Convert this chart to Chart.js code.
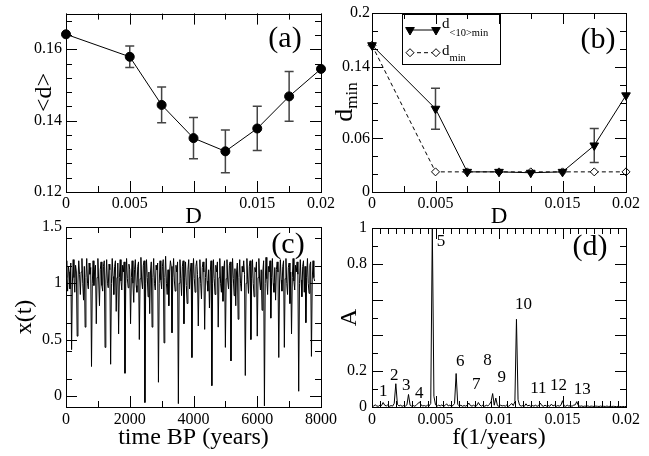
<!DOCTYPE html>
<html>
<head>
<meta charset="utf-8">
<script src="https://cdn.jsdelivr.net/npm/chart.js"></script>
<style>
  body { margin: 0; background: #fff; }
  #wrap { position: relative; width: 649px; height: 456px; }
  #wrap canvas { position: absolute; left: 0; top: 0; }
</style>
</head>
<body>
<div id="wrap">
  <canvas id="panelA" width="649" height="456"></canvas>
  <canvas id="panelB" width="649" height="456"></canvas>
  <canvas id="panelC" width="649" height="456"></canvas>
  <canvas id="panelD" width="649" height="456"></canvas>
</div>
<script>
// ---- panel (a) and (b): noise intensity D
const dVals = [0, 0.005, 0.0075, 0.01, 0.0125, 0.015, 0.0175, 0.02];
const meanD = [0.1642, 0.1579, 0.1444, 0.1351, 0.1314, 0.1378, 0.1468, 0.1545];
const meanDErr = [0, 0.003, 0.005, 0.0058, 0.006, 0.0062, 0.007, 0];
const d10min = [0.164, 0.093, 0.0225, 0.0225, 0.0215, 0.0225, 0.052, 0.108];
const d10minErr = [0, 0.023, 0, 0, 0, 0, 0.019, 0];
const dMin = [0.164, 0.0225, 0.0225, 0.0225, 0.0225, 0.0225, 0.0225, 0.0225];

// ---- panel (c): x(t), one sample every 25 years (one line per dip)
const xStep = 25;
const xSeries = [
  1.2, 1.05, 0.93, 1.15, 1.1, 0.95, 1.18,
  0.41, 1.0, 1.21, 1.05, 0.92, 1.16, 1.1,
  0.53, 1.02, 1.2, 1.08, 0.9, 1.1, 1.22, 1.0, 0.85, 1.15,
  0.61, 1.05, 1.22, 1.0, 0.95, 1.18, 1.08, 1.14,
  0.26, 1.0, 1.2, 0.98, 1.12, 1.16,
  0.64, 1.05, 1.22, 1.02, 0.8, 1.12, 1.19, 0.98, 0.93, 1.15, 1.2,
  0.43, 1.02, 1.21, 1.0, 0.96, 1.17, 1.12,
  0.28, 1.0, 1.22, 1.06, 0.9, 1.15, 1.2, 0.75, 1.05, 1.18,
  0.55, 1.05, 1.21, 1.02, 0.94, 1.16, 1.1, 1.19,
  0.2, 1.0, 1.22, 1.04, 0.96, 1.17, 1.12,
  0.64, 1.05, 1.2, 1.0, 0.83, 1.12, 1.21, 0.98, 0.92, 1.15, 1.19,
  0.5, 1.04, 1.23, 1.02, 0.95, 1.16, 1.2,
  -0.06, 1.0, 1.21, 1.05, 0.88, 1.1, 0.73, 1.1, 1.19,
  0.61, 1.05, 1.22, 1.0, 0.94, 1.16, 1.12, 1.18,
  0.12, 1.0, 1.2, 1.03, 0.95, 1.15, 1.21,
  0.47, 1.05, 1.24, 1.0, 0.9, 1.12, 0.8, 1.1, 1.2, 1.15,
  0.56, 1.05, 1.22, 1.02, 0.93, 1.16, 1.1, 1.19,
  -0.07, 1.0, 1.21, 1.04, 0.89, 1.15, 1.2,
  0.64, 1.05, 1.19, 0.98, 0.82, 1.12, 1.21, 0.95, 1.1, 1.18,
  0.34, 1.02, 1.22, 1.04, 0.92, 1.15, 1.2, 1.08,
  0.62, 1.05, 1.21, 1.0, 0.86, 1.14, 1.19, 1.1,
  0.59, 1.05, 1.22, 1.02, 0.93, 1.12, 0.78, 1.1, 1.2,
  0.09, 1.0, 1.21, 1.04, 0.9, 1.16, 1.1, 1.19,
  0.61, 1.05, 1.22, 1.0, 0.92, 1.15, 0.84, 1.12, 1.2,
  0.43, 1.04, 1.21, 1.02, 0.95, 1.16, 1.19,
  0.31, 1.0, 1.22, 1.04, 0.89, 1.13, 0.8, 1.1, 1.18,
  0.68, 1.05, 1.21, 1.0, 0.93, 1.15, 1.1, 1.2, 1.08,
  0.18, 1.0, 1.22, 1.03, 0.91, 1.15, 1.2,
  0.5, 1.04, 1.21, 1.0, 0.88, 1.14, 1.1, 1.19,
  0.53, 1.05, 1.22, 1.02, 0.94, 1.12, 0.76, 1.1, 1.2,
  -0.09, 1.0, 1.23, 1.04, 0.9, 1.15, 1.1, 1.2,
  0.69, 1.05, 1.22, 1.0, 0.92, 1.14, 0.85, 1.12, 1.19, 1.1,
  0.34, 1.02, 1.21, 1.03, 0.93, 1.15, 1.2,
  0.43, 1.04, 1.22, 1.0, 0.9, 1.14, 1.18, 0.82, 1.1,
  0.55, 1.05, 1.22, 1.02, 0.94, 1.16, 1.1, 1.19, 1.08,
  0.04, 1.0, 1.21, 1.03, 0.88, 1.15, 1.2, 0.92, 1.15,
  0.65, 1.05, 1.22, 1.0, 0.91, 1.16, 1.19,
  0.35, 1.03, 1.2, 1.05, 1.02
];

// ---- panel (d): spectrum, one bin every 0.000125 1/years
const fStep = 0.000125;
const ampSeries = [
  0.01, 0.005, 0.012, 0.006, 0.004, 0.01, 0.008, 0.025, 0.01, 0.006,
  0.012, 0.004, 0.008, 0.005, 0.02, 0.13, 0.015, 0.006, 0.01, 0.004,
  0.008, 0.005, 0.012, 0.07, 0.01, 0.005, 0.008, 0.004, 0.012, 0.02,
  0.028, 0.01, 0.006, 0.008, 0.004, 0.01, 0.006, 0.02, 1.0, 0.06,
  0.012, 0.005, 0.01, 0.006, 0.012, 0.004, 0.008, 0.018, 0.006, 0.01,
  0.005, 0.008, 0.02, 0.187, 0.015, 0.006, 0.01, 0.004, 0.008, 0.005,
  0.01, 0.022, 0.008, 0.005, 0.01, 0.004, 0.008, 0.025, 0.01, 0.005,
  0.012, 0.004, 0.01, 0.006, 0.015, 0.03, 0.075, 0.01, 0.05, 0.008,
  0.004, 0.01, 0.006, 0.008, 0.005, 0.012, 0.004, 0.01, 0.02, 0.008,
  0.03, 0.49, 0.04, 0.01, 0.005, 0.008, 0.004, 0.018, 0.006, 0.01,
  0.004, 0.008, 0.005, 0.01, 0.004, 0.008, 0.022, 0.008, 0.004, 0.01,
  0.005, 0.008, 0.004, 0.016, 0.006, 0.01, 0.004, 0.008, 0.005, 0.01,
  0.035, 0.006, 0.004, 0.01, 0.005, 0.008, 0.004, 0.01, 0.012, 0.03,
  0.008, 0.004, 0.006, 0.003, 0.005, 0.004, 0.006, 0.003, 0.005, 0.004,
  0.003, 0.005, 0.004, 0.003, 0.005, 0.003, 0.004, 0.003, 0.005, 0.003,
  0.004, 0.003, 0.004, 0.003, 0.002, 0.004, 0.003, 0.002, 0.003, 0.002, 0.003
];
const peakNames = ['1', '2', '3', '4', '5', '6', '7', '8', '9', '10', '11', '12', '13'];
const peakLabelF = [0.00089, 0.00175, 0.0027, 0.00372, 0.00543, 0.00694, 0.0082, 0.00909, 0.01022, 0.01192, 0.0131, 0.01468, 0.01656];
const peakLabelA = [0.084, 0.174, 0.122, 0.078, 0.924, 0.252, 0.127, 0.262, 0.165, 0.57, 0.103, 0.118, 0.097];

// ---- tick labels
const aXTicks = [0, 0.005, 0.015, 0.02];
const aXLabels = ['0', '0.005', '0.015', '0.02'];
const aYTicks = [0.12, 0.14, 0.16];
const aYLabels = ['0.12', '0.14', '0.16'];
const bYTicks = [0, 0.06, 0.14, 0.2];
const bYLabels = ['0', '0.06', '0.14', '0.2'];
const cXTicks = [0, 2000, 4000, 6000, 8000];
const cXLabels = ['0', '2000', '4000', '6000', '8000'];
const cYTicks = [0, 0.5, 1, 1.5];
const cYLabels = ['0', '0.5', '1', '1.5'];
const dXTicks = [0, 0.005, 0.01, 0.015, 0.02];
const dXLabels = ['0', '0.005', '0.01', '0.015', '0.02'];
const dYTicks = [0, 0.2, 0.8, 1];
const dYLabels = ['0', '0.2', '0.8', '1'];

const SERIF = "'Liberation Serif', 'Times New Roman', serif";

// inward ticks on all four sides + frame (xmgrace look)
const frameTicks = {
  id: 'frameTicks',
  afterDatasetsDraw(chart, args, o) {
    const {ctx, chartArea: a, scales: {x, y}} = chart;
    ctx.save();
    ctx.strokeStyle = '#000';
    ctx.lineWidth = 1;
    ctx.beginPath();
    function xt(v, len) {
      const p = Math.round(x.getPixelForValue(v)) + 0.5;
      ctx.moveTo(p, a.bottom); ctx.lineTo(p, a.bottom - len);
      ctx.moveTo(p, a.top); ctx.lineTo(p, a.top + len);
    }
    function yt(v, len) {
      const p = Math.round(y.getPixelForValue(v)) + 0.5;
      ctx.moveTo(a.left, p); ctx.lineTo(a.left + len, p);
      ctx.moveTo(a.right, p); ctx.lineTo(a.right - len, p);
    }
    for (let n = 0; x.min + n * o.xMinor <= x.max + 1e-9; n++) xt(x.min + n * o.xMinor, 6);
    for (let n = 0; y.min + n * o.yMinor <= y.max + 1e-9; n++) yt(y.min + n * o.yMinor, 6);
    o.xMajor.forEach(v => xt(v, 11));
    o.yMajor.forEach(v => yt(v, 11));
    ctx.stroke();
    ctx.strokeRect(Math.round(a.left) + 0.5, Math.round(a.top) + 0.5, Math.round(a.right - a.left), Math.round(a.bottom - a.top));
    ctx.restore();
  }
};

const errorBars = {
  id: 'errorBars',
  beforeDatasetsDraw(chart, args, o) {
    if (!o.err) return;
    const {ctx, scales: {x, y}} = chart;
    ctx.save();
    ctx.strokeStyle = '#444';
    ctx.lineWidth = 1.5;
    chart.data.datasets[0].data.forEach((p, i) => {
      const e = o.err[i];
      if (!e) return;
      const px = x.getPixelForValue(p.x);
      const top = y.getPixelForValue(p.y + e);
      const bot = y.getPixelForValue(p.y - e);
      ctx.beginPath();
      ctx.moveTo(px, top); ctx.lineTo(px, bot);
      ctx.moveTo(px - 4.5, top); ctx.lineTo(px + 4.5, top);
      ctx.moveTo(px - 4.5, bot); ctx.lineTo(px + 4.5, bot);
      ctx.stroke();
    });
    ctx.restore();
  }
};

// free text: panel letters, titles with subscripts, peak numbers
const panelText = {
  id: 'panelText',
  afterDraw(chart, args, o) {
    const ctx = chart.ctx;
    const {x, y} = chart.scales;
    (o.items || []).forEach(it => {
      ctx.save();
      ctx.translate(it.x, it.y);
      if (it.rot) ctx.rotate(it.rot * Math.PI / 180);
      ctx.fillStyle = '#000';
      ctx.textBaseline = it.base || 'middle';
      ctx.textAlign = 'left';
      const parts = it.parts || [{t: it.t, size: it.size}];
      let w = 0;
      parts.forEach(p => { ctx.font = p.size + 'px ' + SERIF; p.w = ctx.measureText(p.t).width; w += p.w; });
      let cx = it.align === 'left' ? 0 : -w / 2;
      parts.forEach(p => { ctx.font = p.size + 'px ' + SERIF; ctx.fillText(p.t, cx, p.dy || 0); cx += p.w; });
      ctx.restore();
    });
    if (o.peaks) {
      ctx.save();
      ctx.fillStyle = '#000';
      ctx.font = '17px ' + SERIF;
      ctx.textAlign = 'center';
      ctx.textBaseline = 'middle';
      peakNames.forEach((n, i) => ctx.fillText(n, x.getPixelForValue(peakLabelF[i]), y.getPixelForValue(peakLabelA[i])));
      ctx.restore();
    }
  }
};

// legend box of panel (b), samples taken from the dataset styles
const sampleLegend = {
  id: 'sampleLegend',
  afterDraw(chart, args, o) {
    if (!o.rows) return;
    const ctx = chart.ctx;
    ctx.save();
    ctx.strokeStyle = '#000';
    ctx.lineWidth = 1;
    ctx.strokeRect(o.box[0] + 0.5, o.box[1] + 0.5, o.box[2], o.box[3]);
    o.rows.forEach(r => {
      const ds = chart.data.datasets[r.ds];
      ctx.strokeStyle = '#000';
      ctx.lineWidth = 1;
      ctx.setLineDash(ds.borderDash || []);
      ctx.beginPath(); ctx.moveTo(r.x0, r.y); ctx.lineTo(r.x1, r.y); ctx.stroke();
      ctx.setLineDash([]);
      ctx.fillStyle = ds.pointBackgroundColor;
      ctx.strokeStyle = ds.pointBorderColor;
      [r.x0, r.x1].forEach(px => Chart.helpers.drawPoint(ctx, {
        pointStyle: ds.pointStyle, radius: ds.pointRadius, rotation: ds.pointRotation || 0, borderWidth: 1
      }, px, r.y));
    });
    ctx.restore();
  }
};

function axis(o) {
  return {
    type: 'linear',
    min: o.min,
    max: o.max,
    grid: {display: false, drawTicks: false},
    border: {display: false},
    afterBuildTicks: s => { s.ticks = o.ticks.map(v => ({value: v})); },
    afterFit: s => { if (s.isHorizontal()) s.height = o.size; else s.width = o.size; },
    ticks: {
      autoSkip: false, maxRotation: 0, padding: o.pad, color: '#000',
      font: {family: SERIF, size: 16},
      callback: (v, i) => o.labels[i]
    },
    title: o.title
      ? {display: true, text: o.title, color: '#000', font: {family: SERIF, size: o.titleSize || 24}, padding: o.titlePad}
      : {display: false}
  };
}

function baseOptions(padding, x, y, plugins) {
  return {
    responsive: false,
    animation: false,
    events: [],
    layout: {padding: padding},
    elements: {line: {tension: 0}},
    scales: {x: x, y: y},
    plugins: Object.assign({legend: {display: false}, tooltip: {enabled: false}}, plugins)
  };
}

const allPlugins = [errorBars, frameTicks, sampleLegend, panelText];

// (a)
new Chart(document.getElementById('panelA'), {
  type: 'line',
  data: {datasets: [{
    data: dVals.map((d, i) => ({x: d, y: meanD[i]})),
    borderColor: '#000', borderWidth: 1,
    pointRadius: 4.5, pointBackgroundColor: '#000', pointBorderColor: '#000', clip: false
  }]},
  options: baseOptions(
    {left: 0, top: 13, right: 328, bottom: 224},
    axis({min: 0, max: 0.02, ticks: aXTicks, labels: aXLabels, size: 40, pad: 2.4, title: 'D', titleSize: 23, titlePad: {top: 0, bottom: 1.2}}),
    axis({min: 0.12, max: 0.17, ticks: aYTicks, labels: aYLabels, size: 66, pad: 4}),
    {
      errorBars: {err: meanDErr},
      frameTicks: {xMajor: [0, 0.005, 0.01, 0.015, 0.02], xMinor: 0.0025, yMajor: [0.12, 0.14, 0.16], yMinor: 0.004},
      panelText: {items: [
        {t: '(a)', size: 30, x: 285, y: 39},
        {t: '<d>', size: 24, x: 45, y: 92.5, rot: -90}
      ]}
    }
  ),
  plugins: allPlugins
});

// (b)
new Chart(document.getElementById('panelB'), {
  type: 'line',
  data: {datasets: [
    {
      data: dVals.map((d, i) => ({x: d, y: d10min[i]})),
      borderColor: '#000', borderWidth: 1,
      pointStyle: 'triangle', pointRotation: 180, pointRadius: 5,
      pointBackgroundColor: '#000', pointBorderColor: '#000', clip: false
    },
    {
      data: dVals.map((d, i) => ({x: d, y: dMin[i]})),
      borderColor: '#000', borderWidth: 1, borderDash: [4, 3],
      pointStyle: 'rectRot', pointRadius: 4,
      pointBackgroundColor: '#fff', pointBorderColor: '#000', pointBorderWidth: 1, clip: false
    }
  ]},
  options: baseOptions(
    {left: 322, top: 13, right: 23, bottom: 224},
    axis({min: 0, max: 0.02, ticks: aXTicks, labels: aXLabels, size: 40, pad: 2.4, title: 'D', titleSize: 23, titlePad: {top: 0, bottom: 1.2}}),
    axis({min: 0, max: 0.2, ticks: bYTicks, labels: bYLabels, size: 50, pad: 2}),
    {
      errorBars: {err: d10minErr},
      frameTicks: {xMajor: [0, 0.005, 0.01, 0.015, 0.02], xMinor: 0.0025, yMajor: [0, 0.06, 0.14, 0.2], yMinor: 0.02},
      sampleLegend: {box: [402, 14, 98, 50], rows: [
        {ds: 0, x0: 410, x1: 436, y: 30},
        {ds: 1, x0: 410, x1: 436, y: 52.7}
      ]},
      panelText: {items: [
        {t: '(b)', size: 30, x: 598, y: 40},
        {x: 345, y: 102, rot: -90, parts: [{t: 'd', size: 26}, {t: 'min', size: 17, dy: 8}]},
        {x: 442, y: 28, base: 'alphabetic', align: 'left', parts: [{t: 'd', size: 15}, {t: '<10>min', size: 10.5, dy: 8}]},
        {x: 442, y: 54.5, base: 'alphabetic', align: 'left', parts: [{t: 'd', size: 15}, {t: 'min', size: 10.5, dy: 6}]}
      ]}
    }
  ),
  plugins: allPlugins
});

// (c)
new Chart(document.getElementById('panelC'), {
  type: 'line',
  data: {datasets: [{
    data: xSeries.map((v, i) => ({x: i * xStep, y: v})),
    borderColor: '#000', borderWidth: 1, pointRadius: 0
  }]},
  options: baseOptions(
    {left: 0, top: 227, right: 328, bottom: 3},
    axis({min: 0, max: 8000, ticks: cXTicks, labels: cXLabels, size: 46, pad: 2.7, title: 'time BP (years)', titlePad: {top: 0, bottom: 0.6}}),
    axis({min: -0.1, max: 1.5, ticks: cYTicks, labels: cYLabels, size: 66, pad: 4, title: 'x(t)', titlePad: {top: 10.6, bottom: 0}}),
    {
      frameTicks: {xMajor: cXTicks, xMinor: 1000, yMajor: cYTicks, yMinor: 0.25},
      panelText: {items: [{t: '(c)', size: 30, x: 288, y: 245}]}
    }
  ),
  plugins: allPlugins
});

// (d)
new Chart(document.getElementById('panelD'), {
  type: 'line',
  data: {datasets: [{
    data: ampSeries.map((v, i) => ({x: i * fStep, y: v})),
    borderColor: '#000', borderWidth: 1, pointRadius: 0
  }]},
  options: baseOptions(
    {left: 322, top: 228, right: 23, bottom: 3},
    axis({min: 0, max: 0.02, ticks: dXTicks, labels: dXLabels, size: 46, pad: 2.7, title: 'f(1/years)', titlePad: {top: 0, bottom: 1.0}}),
    axis({min: 0, max: 1, ticks: dYTicks, labels: dYLabels, size: 50, pad: 5, title: 'A', titlePad: {top: 13.6, bottom: 0}}),
    {
      frameTicks: {xMajor: dXTicks, xMinor: 0.000625, yMajor: [0, 0.2, 0.4, 0.6, 0.8, 1], yMinor: 0.1},
      panelText: {peaks: true, items: [{t: '(d)', size: 30, x: 590, y: 247}]}
    }
  ),
  plugins: allPlugins
});
</script>
</body>
</html>
